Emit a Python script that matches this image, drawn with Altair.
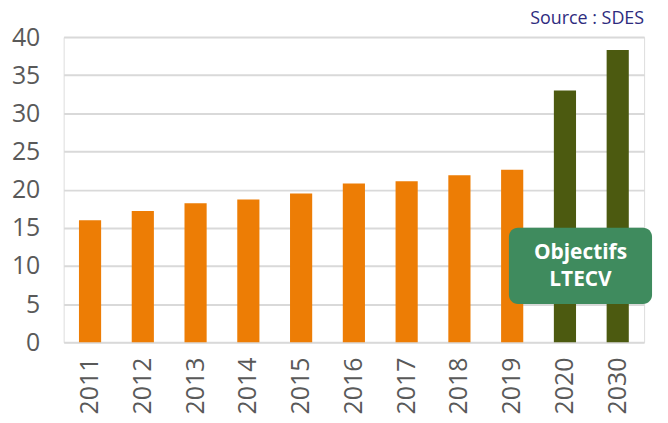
import altair as alt
import pandas as pd

years = ["2011", "2012", "2013", "2014", "2015", "2016", "2017", "2018", "2019", "2020", "2030"]
values = [16.0, 17.2, 18.2, 18.7, 19.5, 20.8, 21.1, 21.9, 22.6, 33.0, 38.3]
kinds = ["Réalisé"] * 9 + ["Objectif"] * 2
kind_domain = ["Réalisé", "Objectif"]
kind_colors = ["#ED7D05", "#4C5A10"]
y_ticks = [0, 5, 10, 15, 20, 25, 30, 35, 40]

box_text = ["Objectifs", "LTECV"]
box_text_y = [11.7, 8.1]
box_y = [15, 5]
source_text = "Source : SDES"

df = pd.DataFrame({"annee": years, "valeur": values, "type": kinds})

W, H = 584, 307
FONT = "Open Sans"

y_scale = alt.Scale(domain=[0, 40], nice=False)
y_axis = alt.Axis(values=y_ticks, labelFontSize=25, labelColor="#595959",
                  labelFont=FONT, domain=False, domainColor="white", ticks=False, labelPadding=24,
                  gridColor="#D9D9D9", gridWidth=2, labelOverlap=False)

bars = alt.Chart(df).mark_bar().encode(
    x=alt.X("annee:N", sort=years, title=None,
            scale=alt.Scale(paddingInner=0.58, paddingOuter=0.29),
            axis=alt.Axis(labelAngle=-90, labelFontSize=25, labelColor="#595959",
                          labelFont=FONT, domain=False, domainColor="white", ticks=False, labelPadding=15,
                          labelBaseline="middle", labelAlign="right", grid=False)),
    y=alt.Y("valeur:Q", title=None, scale=y_scale, axis=y_axis),
    color=alt.Color("type:N", scale=alt.Scale(domain=kind_domain, range=kind_colors), legend=None),
)

box_df = pd.DataFrame({"valeur": [box_y[0]], "y2": [box_y[1]]})
box = alt.Chart(box_df).mark_rect(color="#3F8B5E", cornerRadius=9).encode(
    x=alt.value(448), x2=alt.value(592),
    y=alt.Y("valeur:Q", title=None, scale=y_scale, axis=y_axis), y2="y2:Q",
)

txt_df = pd.DataFrame({"t": box_text, "valeur": box_text_y})
box_txt = alt.Chart(txt_df).mark_text(
    color="white", fontWeight="bold", fontSize=21, font=FONT, align="center", baseline="middle"
).encode(
    x=alt.value(520),
    y=alt.Y("valeur:Q", title=None, scale=y_scale, axis=y_axis),
    text="t:N",
)

src = alt.Chart(pd.DataFrame({"t": [source_text]})).mark_text(
    color="#2E2B7E", fontSize=18, font=FONT, align="right", baseline="middle"
).encode(x=alt.value(584), y=alt.value(-18), text="t:N")

chart = alt.layer(bars, box, box_txt, src).properties(
    width=W, height=H,
    autosize="none",
    padding={"left": 56, "top": 28, "right": 16, "bottom": 72},
).configure_view(stroke="transparent", strokeOpacity=0, strokeWidth=0).configure_axis(
    domain=False
).configure_axisY(domain=False).configure(background="white")

chart.save("out.html", embed_options={"renderer": "svg", "actions": False})
